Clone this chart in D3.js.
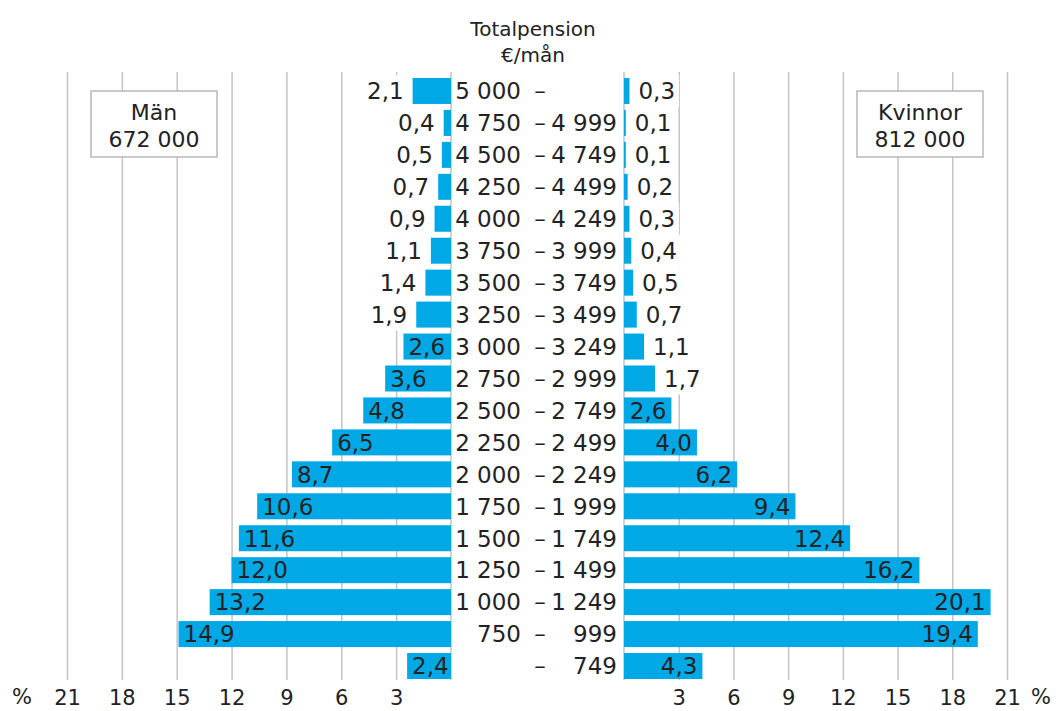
<!DOCTYPE html>
<html>
<head>
<meta charset="utf-8">
<script src="https://cdn.jsdelivr.net/npm/d3@7"></script>
<style>
    body { margin: 0; background: #fff; }
    text { font-family: "DejaVu Sans", Verdana, sans-serif; fill: #222; }
</style>
</head>
<body>
<div id="chart"></div>
<script>
// pension brackets, top to bottom
const lowerBounds = ['5 000', '4 750', '4 500', '4 250', '4 000', '3 750', '3 500', '3 250', '3 000',
                     '2 750', '2 500', '2 250', '2 000', '1 750', '1 500', '1 250', '1 000', '750', ''];
const upperBounds = ['', '4 999', '4 749', '4 499', '4 249', '3 999', '3 749', '3 499', '3 249',
                     '2 999', '2 749', '2 499', '2 249', '1 999', '1 749', '1 499', '1 249', '999', '749'];
const menShare = [2.1, 0.4, 0.5, 0.7, 0.9, 1.1, 1.4, 1.9, 2.6, 3.6, 4.8, 6.5, 8.7, 10.6, 11.6, 12.0, 13.2, 14.9, 2.4];
const womenShare = [0.3, 0.1, 0.1, 0.2, 0.3, 0.4, 0.5, 0.7, 1.1, 1.7, 2.6, 4.0, 6.2, 9.4, 12.4, 16.2, 20.1, 19.4, 4.3];
const tickValues = [3, 6, 9, 12, 15, 18, 21];

const width = 1056, height = 711;
const barColor = '#00a9e6';
const gridColor = '#c4c4c4';
const insideLimit = 2.3;
const labelSize = 23;

const fmt = v => d3.format('.1f')(v).replace('.', ',');

const svg = d3.select('#chart').append('svg')
    .attr('width', width)
    .attr('height', height);

const rows = lowerBounds.map((lo, i) => ({ i: i, lo: lo, hi: upperBounds[i], men: menShare[i], women: womenShare[i] }));

const y = d3.scaleBand()
    .domain(rows.map(d => d.i))
    .range([75, 682])
    .paddingInner(0.186)
    .paddingOuter(0.093);

const xLeft = d3.scaleLinear().domain([0, 21]).range([451, 67]);
const xRight = d3.scaleLinear().domain([0, 21]).range([624, 1007]);

const gridTop = 72, gridBottom = 680;

// gridlines
[xLeft, xRight].forEach(x => {
    svg.append('g')
        .attr('transform', 'translate(0,' + gridBottom + ')')
        .call(d3.axisBottom(x).tickValues(tickValues).tickSize(-(gridBottom - gridTop)).tickFormat(''))
        .call(g => g.select('.domain').remove())
        .call(g => g.selectAll('line').attr('stroke', gridColor).attr('stroke-width', 1.5));
});

// zero lines
[xLeft(0), xRight(0)].forEach(x0 => {
    svg.append('line')
        .attr('x1', x0).attr('x2', x0)
        .attr('y1', gridTop).attr('y2', gridBottom)
        .attr('stroke', gridColor).attr('stroke-width', 1.5);
});

// tick labels
[xLeft, xRight].forEach(x => {
    svg.append('g')
        .attr('transform', 'translate(0,' + gridBottom + ')')
        .call(d3.axisBottom(x).tickValues(tickValues).tickSize(0).tickPadding(10))
        .call(g => g.select('.domain').remove())
        .call(g => g.selectAll('text')
            .attr('font-size', 21)
            .attr('font-family', '"DejaVu Sans", sans-serif')
            .attr('fill', '#222'));
});
svg.append('text').attr('x', 22).attr('y', 704).attr('text-anchor', 'middle').attr('font-size', 21).text('%');
svg.append('text').attr('x', 1041).attr('y', 704).attr('text-anchor', 'middle').attr('font-size', 21).text('%');

// header
svg.append('text').attr('x', 533).attr('y', 36).attr('text-anchor', 'middle')
    .attr('font-size', 20).attr('font-family', '"Open Sans", "Liberation Sans", sans-serif').text('Totalpension');
svg.append('text').attr('x', 533).attr('y', 62).attr('text-anchor', 'middle')
    .attr('font-size', 20).attr('font-family', '"Open Sans", "Liberation Sans", sans-serif').text('€/mån');

// value labels: outside labels get a white box that hides the gridlines
const labelLayer = svg.append('g');
const barLayer = svg.append('g');
const textLayer = svg.append('g');

function drawSide(field, x, side) {
    barLayer.selectAll('rect.' + field)
        .data(rows)
        .enter()
        .append('rect')
        .attr('class', field)
        .attr('x', d => side < 0 ? x(d[field]) : x(0))
        .attr('width', d => Math.abs(x(d[field]) - x(0)))
        .attr('y', d => y(d.i))
        .attr('height', y.bandwidth())
        .attr('fill', barColor);

    const labels = textLayer.selectAll('text.' + field)
        .data(rows)
        .enter()
        .append('text')
        .attr('class', field)
        .attr('font-size', labelSize)
        .attr('y', d => y(d.i) + y.bandwidth() / 2)
        .attr('dy', '0.36em')
        .attr('x', d => {
            const inside = d[field] > insideLimit;
            if (side < 0) return inside ? x(d[field]) + 5 : x(d[field]) - 9;
            return inside ? x(d[field]) - 5 : x(d[field]) + 9;
        })
        .attr('text-anchor', d => {
            const inside = d[field] > insideLimit;
            return (side < 0) === inside ? 'start' : 'end';
        })
        .text(d => fmt(d[field]));

    labels.filter(d => d[field] <= insideLimit).each(function (d) {
        const b = this.getBBox();
        labelLayer.append('rect')
            .attr('x', b.x - 4)
            .attr('width', b.width + 8)
            .attr('y', y(d.i) - y.step() * y.paddingInner() / 2)
            .attr('height', y.step())
            .attr('fill', '#fff');
    });
}

drawSide('men', xLeft, -1);
drawSide('women', xRight, 1);

// bracket labels in the middle
const mid = svg.append('g');
mid.selectAll('text.lo')
    .data(rows)
    .enter()
    .append('text')
    .attr('class', 'lo')
    .attr('x', 521)
    .attr('y', d => y(d.i) + y.bandwidth() / 2)
    .attr('dy', '0.36em')
    .attr('text-anchor', 'end')
    .attr('font-size', labelSize)
    .text(d => d.lo);
mid.selectAll('text.dash')
    .data(rows)
    .enter()
    .append('text')
    .attr('class', 'dash')
    .attr('x', 540)
    .attr('y', d => y(d.i) + y.bandwidth() / 2)
    .attr('dy', '0.36em')
    .attr('text-anchor', 'middle')
    .attr('font-size', labelSize)
    .text('–');
mid.selectAll('text.hi')
    .data(rows)
    .enter()
    .append('text')
    .attr('class', 'hi')
    .attr('x', 617)
    .attr('y', d => y(d.i) + y.bandwidth() / 2)
    .attr('dy', '0.36em')
    .attr('text-anchor', 'end')
    .attr('font-size', labelSize)
    .text(d => d.hi);

// legend boxes
function legendBox(cx, title, total) {
    const g = svg.append('g');
    g.append('rect')
        .attr('x', cx - 63).attr('y', 91)
        .attr('width', 126).attr('height', 66)
        .attr('fill', '#fff')
        .attr('stroke', '#b8b8b8')
        .attr('stroke-width', 1.5);
    g.append('text').attr('x', cx).attr('y', 120).attr('text-anchor', 'middle').attr('font-size', 22).text(title);
    g.append('text').attr('x', cx).attr('y', 147).attr('text-anchor', 'middle').attr('font-size', 22).text(total);
}
legendBox(154, 'Män', '672 000');
legendBox(920, 'Kvinnor', '812 000');
</script>
</body>
</html>
